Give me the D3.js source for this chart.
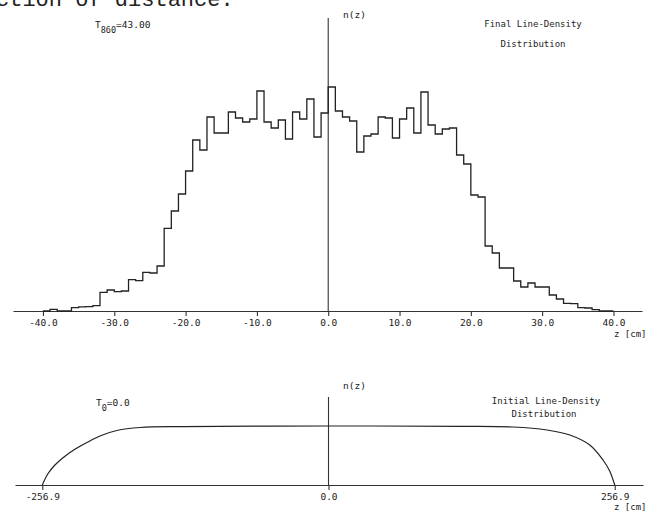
<!DOCTYPE html>
<html>
<head>
<meta charset="utf-8">
<script src="https://cdn.jsdelivr.net/npm/d3@7"></script>
<style>
  body { margin: 0; background: #fff; }
  svg { display: block; }
  text { font-family: "DejaVu Sans Mono", monospace; fill: #222; }
</style>
</head>
<body>
<div id="chart"></div>
<script>
// final line density, 1 cm bins from -40 to 40 (arbitrary units)
const finalStart = -40;
const finalCounts = [
  0, 1.7, 0, 0, 3.3, 4.2, 4.4, 5.3, 18.7, 21, 19.3, 20, 31.3, 30.3, 38.7, 38, 45, 82.7, 100, 117,
  140, 171, 161, 194, 178, 178, 199, 193, 189, 192, 220, 189, 183, 191, 172, 199, 192, 212, 174, 198,
  224, 200, 194, 190, 159, 175, 177, 194, 193, 173, 192, 203, 178, 219, 186, 177, 182, 183, 156, 147,
  116, 114, 65, 58, 43, 43, 30, 24, 28, 24, 24, 16, 12, 7.7, 7.3, 3.3, 3, 1.3, 0, 0
];
const finalTicks = [-40, -30, -20, -10, 0, 10, 20, 30, 40];

// initial line density (smooth curve)
const initZ = [-256.9, -252, -246, -238, -228, -216, -204, -190, -169, -131, 0,
               121, 165.5, 196, 216.6, 234.5, 246.4, 252.4, 256.9];
const initN = [0, 11, 19.5, 27.5, 35.5, 43, 49.5, 54.5, 57.5, 58.4, 59,
               58.7, 58, 55, 50, 40, 25, 14, 0];
const initTicks = [-256.9, 0, 256.9];

const W = 656, H = 513;
const svg = d3.select("#chart").append("svg")
    .attr("width", W).attr("height", H);

// clipped line of page text at the very top
svg.append("text")
    .attr("x", -4).attr("y", 6)
    .style("font-size", "22px")
    .style("font-family", "'Liberation Mono', monospace")
    .text("ction of distance.");

// ---------- top panel ----------
const x1 = d3.scaleLinear().domain([-44.2, 44]).range([13, 642]);
const y1 = d3.scaleLinear().domain([0, 250]).range([311, 61]);

const ax1 = svg.append("g")
    .attr("transform", "translate(0,311)")
    .call(d3.axisBottom(x1).tickValues(finalTicks).tickSize(5).tickSizeOuter(0)
        .tickFormat(d => d.toFixed(1)));
ax1.selectAll("path, line").attr("stroke", "#333").attr("stroke-width", 1.1);
ax1.selectAll("text").style("font-size", "9.5px").style("font-family", "'DejaVu Sans Mono', monospace").attr("fill", "#222");

svg.append("line")
    .attr("x1", x1(0)).attr("x2", x1(0))
    .attr("y1", 18).attr("y2", 311)
    .attr("stroke", "#333").attr("stroke-width", 1.1);

const histPts = finalCounts.map((c, i) => [finalStart + i, c]);
histPts.push([finalStart + finalCounts.length, 0]);

const stepLine = d3.line()
    .x(d => x1(d[0]))
    .y(d => y1(d[1]))
    .curve(d3.curveStepAfter);

svg.append("path")
    .datum(histPts)
    .attr("fill", "none")
    .attr("stroke", "#222")
    .attr("stroke-width", 1.3)
    .attr("d", stepLine);

svg.append("text").attr("x", 343).attr("y", 18).style("font-size", "9.5px").text("n(z)");

const t1 = svg.append("text").attr("x", 95).attr("y", 28).style("font-size", "9.5px");
t1.append("tspan").text("T");
t1.append("tspan").attr("dy", 5).style("font-size", "8.5px").text("860");
t1.append("tspan").attr("dy", -5).text("=43.00");

svg.append("text").attr("x", 533).attr("y", 27).attr("text-anchor", "middle")
    .style("font-size", "9px").text("Final Line-Density");
svg.append("text").attr("x", 533).attr("y", 47).attr("text-anchor", "middle")
    .style("font-size", "9px").text("Distribution");

svg.append("text").attr("x", 614).attr("y", 337).style("font-size", "9px").text("z [cm]");

// ---------- bottom panel ----------
const x2 = d3.scaleLinear().domain([-281.4, 282.3]).range([15, 643]);
const y2 = d3.scaleLinear().domain([0, 70]).range([485, 415]);

const ax2 = svg.append("g")
    .attr("transform", "translate(0,485)")
    .call(d3.axisBottom(x2).tickValues(initTicks).tickSize(5).tickSizeOuter(0)
        .tickFormat(d => d.toFixed(1)));
ax2.selectAll("path, line").attr("stroke", "#333").attr("stroke-width", 1.1);
ax2.selectAll("text").style("font-size", "9.5px").style("font-family", "'DejaVu Sans Mono', monospace").attr("fill", "#222");

svg.append("line")
    .attr("x1", x2(0)).attr("x2", x2(0))
    .attr("y1", 397).attr("y2", 485)
    .attr("stroke", "#333").attr("stroke-width", 1.1);

const initPts = initZ.map((z, i) => [z, initN[i]]);
svg.append("path")
    .datum(initPts)
    .attr("fill", "none")
    .attr("stroke", "#222")
    .attr("stroke-width", 1.2)
    .attr("d", d3.line().x(d => x2(d[0])).y(d => y2(d[1])).curve(d3.curveCatmullRom));

svg.append("text").attr("x", 343).attr("y", 389).style("font-size", "9.5px").text("n(z)");

const t2 = svg.append("text").attr("x", 96).attr("y", 406).style("font-size", "9.5px");
t2.append("tspan").text("T");
t2.append("tspan").attr("dy", 5).style("font-size", "8.5px").text("0");
t2.append("tspan").attr("dy", -5).text("=0.0");

svg.append("text").attr("x", 546).attr("y", 404).attr("text-anchor", "middle")
    .style("font-size", "9px").text("Initial Line-Density");
svg.append("text").attr("x", 544).attr("y", 417).attr("text-anchor", "middle")
    .style("font-size", "9px").text("Distribution");

svg.append("text").attr("x", 614).attr("y", 510).style("font-size", "9px").text("z [cm]");
</script>
</body>
</html>
